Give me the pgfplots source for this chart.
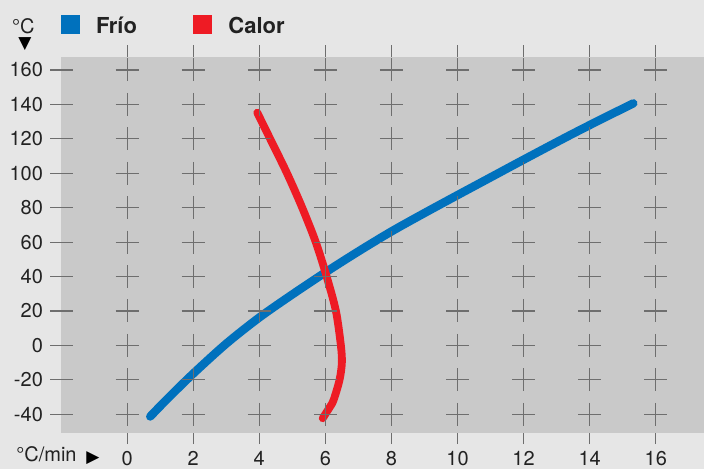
\documentclass[border=0pt]{standalone}
\usepackage{pgfplots}
\pgfplotsset{compat=1.18}
\usepackage{fontspec}
\setmainfont{TeX Gyre Heros}
\newfontfamily\symfont{DejaVu Sans}
\definecolor{outergray}{HTML}{E6E6E6}
\definecolor{plotgray}{HTML}{C9C9C9}
\definecolor{crossgray}{HTML}{6E6E6E}
\definecolor{frio}{HTML}{0071BD}
\definecolor{calor}{HTML}{EE1B24}
\definecolor{txt}{HTML}{222222}
\begin{document}
\begin{tikzpicture}
\fill[outergray] (0,0) rectangle (352pt,234.5pt);
\begin{axis}[
  at={(30.5pt,18.15pt)}, anchor=south west,
  scale only axis, width=321.5pt, height=187.85pt,
  xmin=-2, xmax=17.46, ymin=-50.7, ymax=167.55,
  clip=false,
  axis line style={draw=none},
  axis background/.style={fill=plotgray},
  xtick={0,2,...,16}, ytick={-40,-20,...,160},
  tick align=outside, major tick length=5.75pt,
  xtick style={draw=crossgray, line width=0.55pt},
  ytick style={draw=none},
  /pgf/number format/assume math mode=true,
  tick label style={font=\fontsize{10}{12}\selectfont, text=txt},
  yticklabel style={anchor=east, inner sep=0pt, xshift=-3.1pt},
  xticklabel style={anchor=north, inner sep=0pt, yshift=-3.4pt},
  legend columns=-1,
  legend cell align=left,
  legend image code/.code={\fill[#1, draw=none] (0pt,-3.8pt) rectangle (9.5pt,5.7pt);},
  legend style={at={(axis description cs:0,1)}, anchor=south west, yshift=10.35pt,
    draw=none, fill=none, inner sep=0pt, outer sep=0pt,
    nodes={inner sep=0pt, outer sep=0pt},
    font=\fontsize{11}{13}\selectfont\bfseries, text=txt,
    /tikz/every odd column/.append style={column sep=8pt},
    /tikz/every even column/.append style={column sep=28.2pt}},
]
% crosses
\addplot[forget plot, only marks, mark=+, mark size=5.75pt, mark options={draw=crossgray, line width=0.55pt}] coordinates {
(0,-40)(2,-40)(4,-40)(6,-40)(8,-40)(10,-40)(12,-40)(14,-40)(16,-40)
(0,-20)(2,-20)(4,-20)(6,-20)(8,-20)(10,-20)(12,-20)(14,-20)(16,-20)
(0,0)(2,0)(4,0)(6,0)(8,0)(10,0)(12,0)(14,0)(16,0)
(0,20)(2,20)(4,20)(6,20)(8,20)(10,20)(12,20)(14,20)(16,20)
(0,40)(2,40)(4,40)(6,40)(8,40)(10,40)(12,40)(14,40)(16,40)
(0,60)(2,60)(4,60)(6,60)(8,60)(10,60)(12,60)(14,60)(16,60)
(0,80)(2,80)(4,80)(6,80)(8,80)(10,80)(12,80)(14,80)(16,80)
(0,100)(2,100)(4,100)(6,100)(8,100)(10,100)(12,100)(14,100)(16,100)
(0,120)(2,120)(4,120)(6,120)(8,120)(10,120)(12,120)(14,120)(16,120)
(0,140)(2,140)(4,140)(6,140)(8,140)(10,140)(12,140)(14,140)(16,140)
(0,160)(2,160)(4,160)(6,160)(8,160)(10,160)(12,160)(14,160)(16,160)
};
% y tick marks (centred on the left edge)
\addplot[forget plot, only marks, mark=-, mark size=5.75pt, mark options={draw=crossgray, line width=0.55pt}] coordinates {
(-2,-40)(-2,-20)(-2,0)(-2,20)(-2,40)(-2,60)(-2,80)(-2,100)(-2,120)(-2,140)(-2,160)
};
% Frio
\addplot[color=frio, line width=4.2pt, line cap=round, smooth] coordinates {
(0.7,-41.3)(1.2,-31.4)(2,-16.4)(3,1.0)(4,16.2)(5,29.6)(6,42.4)(7,54.6)(8,66.2)(9,76.9)(10,87.3)(11,97.6)(12,107.9)(13.3,121.1)(14.3,130.9)(15.32,140.6)
};
\addlegendentry{Frío}
% Calor
\addplot[color=calor, line width=3.9pt, line cap=round, smooth] coordinates {
(3.94,135.2)(4.33,120)(4.84,100)(5.30,80)(5.71,60)(6.04,40)(6.32,20)(6.47,0)(6.50,-10)(6.43,-20)(6.25,-31.7)(6.13,-36)(5.92,-42.3)
};
\addlegendentry{Calor}
\end{axis}
\node[anchor=base west, inner sep=0pt, font=\fontsize{10}{12}\selectfont, text=txt] at (5.85pt,217.85pt) {°C};
\node[inner sep=0pt, font=\symfont\fontsize{8.5}{9}\selectfont, text=black] at (12.5pt,212.4pt) {▼};
\node[anchor=base west, inner sep=0pt, font=\fontsize{10}{12}\selectfont, text=txt] at (8pt,3.65pt) {°C/min};
\node[inner sep=0pt, font=\symfont\fontsize{8.5}{9}\selectfont, text=black] at (46.4pt,5.6pt) {▶};
\pgfresetboundingbox
\useasboundingbox (0,0) rectangle (352pt,234.5pt);
\end{tikzpicture}
\end{document}
